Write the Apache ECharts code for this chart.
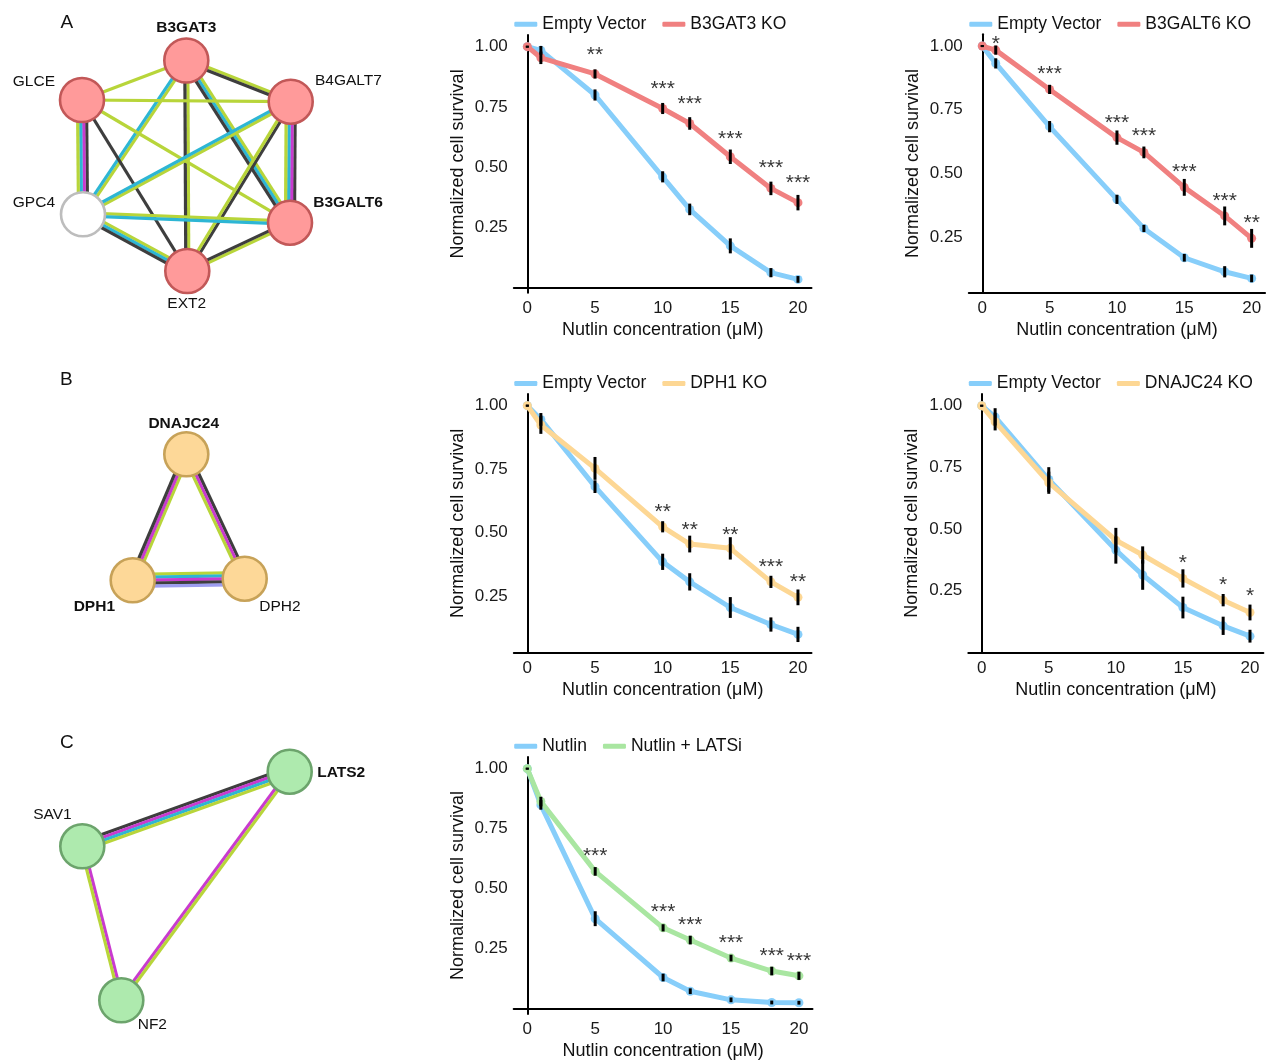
<!DOCTYPE html>
<html><head><meta charset="utf-8">
<script src="https://cdn.jsdelivr.net/npm/echarts@6/dist/echarts.min.js"></script>
<style>html,body{margin:0;padding:0;background:#fff}#c{width:1266px;height:1061px}</style>
</head><body><div id="c"></div>
<script>
// ---------- shared axis data ----------
const conc = [0, 1, 5, 10, 12, 15, 18, 20];
const xTicks = [0, 5, 10, 15, 20];
const yTicks = [0.25, 0.5, 0.75, 1.0];

// ---------- Panel A: B3GAT3 KO ----------
const evA1    = [1.00, 0.985, 0.800, 0.461, 0.326, 0.175, 0.064, 0.036];
const evA1Err = [0.004, 0.018, 0.023, 0.023, 0.024, 0.031, 0.019, 0.014];
const koA1    = [1.00, 0.954, 0.887, 0.744, 0.682, 0.544, 0.413, 0.354];
const koA1Err = [0.004, 0.026, 0.019, 0.023, 0.026, 0.030, 0.028, 0.032];
const starsA1  = ['', '', '**', '***', '***', '***', '***', '***'];
const starsYA1 = [null, null, 0.983, 0.843, 0.780, 0.635, 0.515, 0.453];

// ---------- Panel A: B3GALT6 KO ----------
const evA2    = [1.00, 0.932, 0.684, 0.399, 0.285, 0.170, 0.115, 0.089];
const evA2Err = [0.004, 0.020, 0.022, 0.018, 0.014, 0.015, 0.022, 0.015];
const koA2    = [1.00, 0.984, 0.830, 0.641, 0.583, 0.446, 0.334, 0.246];
const koA2Err = [0.004, 0.018, 0.018, 0.028, 0.023, 0.033, 0.037, 0.037];
const starsA2  = ['', '*', '***', '***', '***', '***', '***', '**'];
const starsYA2 = [null, 1.025, 0.907, 0.715, 0.663, 0.522, 0.408, 0.323];

// ---------- Panel B: DPH1 KO ----------
const evB1    = [1.00, 0.946, 0.681, 0.385, 0.306, 0.205, 0.138, 0.099];
const evB1Err = [0.004, 0.025, 0.025, 0.032, 0.034, 0.041, 0.028, 0.030];
const koB1    = [1.00, 0.924, 0.753, 0.523, 0.455, 0.438, 0.306, 0.245];
const koB1Err = [0.004, 0.035, 0.045, 0.022, 0.033, 0.044, 0.024, 0.031];
const starsB1  = ['', '', '', '**', '**', '**', '***', '**'];
const starsYB1 = [null, null, null, 0.598, 0.528, 0.509, 0.381, 0.321];

// ---------- Panel B: DNAJC24 KO ----------
const evB2    = [1.00, 0.955, 0.701, 0.415, 0.314, 0.182, 0.108, 0.066];
const evB2Err = [0.004, 0.035, 0.050, 0.055, 0.060, 0.044, 0.037, 0.026];
const koB2    = [1.00, 0.935, 0.688, 0.455, 0.395, 0.300, 0.212, 0.162];
const koB2Err = [0.004, 0.035, 0.045, 0.050, 0.035, 0.037, 0.025, 0.032];
const starsB2  = ['', '', '', '', '', '*', '*', '*'];
const starsYB2 = [null, null, null, null, null, 0.378, 0.291, 0.246];

// ---------- Panel C: LATS inhibitor ----------
const evC1    = [1.00, 0.849, 0.375, 0.130, 0.073, 0.037, 0.026, 0.025];
const evC1Err = [0.004, 0.020, 0.031, 0.016, 0.012, 0.010, 0.008, 0.008];
const koC1    = [1.00, 0.863, 0.572, 0.337, 0.286, 0.211, 0.157, 0.137];
const koC1Err = [0.004, 0.020, 0.018, 0.015, 0.018, 0.014, 0.018, 0.017];
const starsC1  = ['', '', '***', '***', '***', '***', '***', '***'];
const starsYC1 = [null, null, 0.654, 0.419, 0.366, 0.292, 0.239, 0.215];

// ---------- networks (node layout in panel units, edges with evidence channels) ----------
const netANodes = ['GLCE', 'B3GAT3', 'B4GALT7', 'B3GALT6', 'EXT2', 'GPC4'];
const netAX = [0, 104.3, 208.7, 208, 105.3, 1];
const netAY = [39.5, 0, 41.2, 162.2, 210.5, 153.8];
const netAEdges = [
  [1, 0, 'G'], [1, 2, 'GK'], [1, 5, 'GC'], [1, 4, 'GK'], [1, 3, 'GCK'],
  [0, 2, 'G'], [0, 5, 'KMCG'], [0, 4, 'K'], [0, 3, 'G'],
  [2, 5, 'GC'], [2, 3, 'KMCG'], [2, 4, 'KG'],
  [5, 3, 'GC'], [5, 4, 'GCK'], [3, 4, 'GK']
];
const netBNodes = ['DNAJC24', 'DPH1', 'DPH2'];
const netBX = [53.6, 0, 112];
const netBY = [0, 126, 124.4];
const netBEdges = [[0, 1, 'GMK'], [0, 2, 'KMG'], [1, 2, 'GCMKP']];
const netCNodes = ['LATS2', 'SAV1', 'NF2'];
const netCX = [207.4, 0, 39];
const netCY = [0, 74.6, 228.6];
const netCEdges = [[1, 0, 'KMCG'], [1, 2, 'MG'], [2, 0, 'MG']];

// ---------- styles ----------
const FONT = '"Liberation Sans", Arial, Helvetica, sans-serif';
const BLUE = '#87CEFA', RED = '#F08080', ORANGE = '#FDD794', GREEN = '#A9E6A1';
const CH = {G: '#B8D53A', K: '#3E3E3E', C: '#2DB6D4', M: '#C93BCF', P: '#9D9DF0'};

const panels = [
  {ev: evA1, evErr: evA1Err, ko: koA1, koErr: koA1Err, stars: starsA1, starsY: starsYA1,
   evName: 'Empty Vector', koName: 'B3GAT3 KO', koColor: RED, yMin: -0.019, yMax: 1.048,
   box: {left: 513.8, top: 35.1, width: 297.7, height: 257.6}, legendTop: 15.3},
  {ev: evA2, evErr: evA2Err, ko: koA2, koErr: koA2Err, stars: starsA2, starsY: starsYA2,
   evName: 'Empty Vector', koName: 'B3GALT6 KO', koColor: RED, yMin: 0.033, yMax: 1.046,
   box: {left: 968.8, top: 34.3, width: 296.3, height: 258.4}, legendTop: 15.3},
  {ev: evB1, evErr: evB1Err, ko: koB1, koErr: koB1Err, stars: starsB1, starsY: starsYB1,
   evName: 'Empty Vector', koName: 'DPH1 KO', koColor: ORANGE, yMin: 0.027, yMax: 1.046,
   box: {left: 513.8, top: 394.0, width: 297.7, height: 258.7}, legendTop: 374.6},
  {ev: evB2, evErr: evB2Err, ko: koB2, koErr: koB2Err, stars: starsB2, starsY: starsYB2,
   evName: 'Empty Vector', koName: 'DNAJC24 KO', koColor: ORANGE, yMin: -0.001, yMax: 1.048,
   box: {left: 968.3, top: 393.9, width: 295.1, height: 258.8}, legendTop: 374.6},
  {ev: evC1, evErr: evC1Err, ko: koC1, koErr: koC1Err, stars: starsC1, starsY: starsYC1,
   evName: 'Nutlin', koName: 'Nutlin + LATSi', koColor: GREEN, yMin: -0.022, yMax: 1.049,
   box: {left: 513.7, top: 756.9, width: 298.8, height: 258.1}, legendTop: 737.3}
];

const grid = [], xAxis = [], yAxis = [], series = [], legend = [];

function errSeries(gi, xs, ys, es) {
  return {
    type: 'custom', xAxisIndex: gi, yAxisIndex: gi, z: 6, silent: true,
    data: xs.map((x, i) => [x, ys[i], es[i]]),
    encode: {x: 0, y: 1},
    renderItem: function (params, api) {
      const x = api.value(0), y = api.value(1), e = api.value(2);
      const p1 = api.coord([x, y - e]), p2 = api.coord([x, y + e]);
      return {type: 'line', shape: {x1: p1[0], y1: p1[1], x2: p2[0], y2: p2[1]},
              style: {stroke: '#000', lineWidth: 3}};
    }
  };
}

panels.forEach((p, gi) => {
  grid.push(Object.assign({containLabel: false}, p.box));
  xAxis.push({
    type: 'value', gridIndex: gi, min: -1, max: 21,
    name: 'Nutlin concentration (μM)', nameLocation: 'middle', nameGap: 28,
    nameTextStyle: {fontSize: 18, color: '#111', fontFamily: FONT},
    axisLine: {show: true, lineStyle: {color: '#000', width: 2}},
    axisTick: {show: false}, splitLine: {show: false},
    axisLabel: {customValues: xTicks, fontSize: 17, color: '#1a1a1a', margin: 7, fontFamily: FONT}
  });
  yAxis.push({
    type: 'value', gridIndex: gi, min: p.yMin, max: p.yMax,
    name: 'Normalized cell survival', nameLocation: 'middle', nameGap: 47,
    nameTextStyle: {fontSize: 18, color: '#111', fontFamily: FONT},
    axisLine: {show: true, lineStyle: {color: '#000', width: 2}},
    axisTick: {show: false}, splitLine: {show: false},
    axisLabel: {customValues: yTicks, fontSize: 17, color: '#1a1a1a', margin: 6, fontFamily: FONT,
                formatter: v => v.toFixed(2)}
  });
  const lineCommon = {type: 'line', xAxisIndex: gi, yAxisIndex: gi, symbol: 'circle', symbolSize: 9,
                      showSymbol: true, silent: true};
  series.push(Object.assign({}, lineCommon, {
    name: p.evName, z: 2, data: conc.map((x, i) => [x, p.ev[i]]),
    itemStyle: {color: BLUE}, lineStyle: {color: BLUE, width: 5, cap: 'round', join: 'round'}
  }));
  series.push(Object.assign({}, lineCommon, {
    name: p.koName, z: 3, data: conc.map((x, i) => [x, p.ko[i]]),
    itemStyle: {color: p.koColor}, lineStyle: {color: p.koColor, width: 5, cap: 'round', join: 'round'}
  }));
  series.push(errSeries(gi, conc, p.ev, p.evErr));
  series.push(errSeries(gi, conc, p.ko, p.koErr));
  const starData = [];
  conc.forEach((x, i) => { if (p.stars[i]) starData.push({name: p.stars[i], value: [x, p.starsY[i]]}); });
  series.push({
    type: 'scatter', xAxisIndex: gi, yAxisIndex: gi, z: 7, silent: true, symbolSize: 0,
    data: starData,
    label: {show: true, position: 'inside', formatter: '{b}', color: '#000', fontSize: 21,
            fontFamily: FONT, offset: [0, 4.5], align: 'center', verticalAlign: 'middle'}
  });
  legend.push({
    left: p.box.left + 0.5, top: p.legendTop, padding: 0, itemGap: 16, itemWidth: 23, itemHeight: 5,
    icon: 'roundRect', data: [p.evName, p.koName], selectedMode: false,
    textStyle: {fontSize: 17.5, color: '#111', fontFamily: FONT}
  });
});

// ---------- networks ----------
const nets = [
  {names: netANodes, xs: netAX, ys: netAY, edges: netAEdges,
   box: {left: 82, top: 60.5, width: 208.7, height: 210.5},
   fill: n => n === 'GPC4' ? '#FFFFFF' : '#FF9A9A', border: n => n === 'GPC4' ? '#BDBDBD' : '#C25858',
   labels: {
     GLCE:    {align: 'right', offset: [-27, -18.3]},
     B3GAT3:  {align: 'center', offset: [0, -32.5], bold: true},
     B4GALT7: {align: 'left', offset: [24.3, -20.7]},
     B3GALT6: {align: 'left', offset: [23.3, -20.4], bold: true},
     EXT2:    {align: 'center', offset: [-0.6, 32.3]},
     GPC4:    {align: 'right', offset: [-28, -12]}
   }},
  {names: netBNodes, xs: netBX, ys: netBY, edges: netBEdges,
   box: {left: 132.7, top: 454.3, width: 112, height: 126},
   fill: () => '#FDD898', border: () => '#C7A258',
   labels: {
     DNAJC24: {align: 'center', offset: [-2.6, -30.3], bold: true},
     DPH1:    {align: 'right', offset: [-17.7, 26.4], bold: true},
     DPH2:    {align: 'left', offset: [14.6, 28]}
   }},
  {names: netCNodes, xs: netCX, ys: netCY, edges: netCEdges,
   box: {left: 82.3, top: 771.7, width: 207.4, height: 228.6},
   fill: () => '#AEEAAE', border: () => '#6CA46C',
   labels: {
     LATS2: {align: 'left', offset: [27.6, 1], bold: true},
     SAV1:  {align: 'center', offset: [-29.8, -31.3]},
     NF2:   {align: 'left', offset: [16.4, 24.7]}
   }}
];

nets.forEach((net, k) => {
  const gi = panels.length + k;
  grid.push(Object.assign({containLabel: false}, net.box));
  xAxis.push({type: 'value', gridIndex: gi, show: false, min: Math.min(...net.xs), max: Math.max(...net.xs)});
  yAxis.push({type: 'value', gridIndex: gi, show: false, inverse: true, min: Math.min(...net.ys), max: Math.max(...net.ys)});
  series.push({
    type: 'custom', xAxisIndex: gi, yAxisIndex: gi, z: 1, silent: true,
    data: net.edges.map(e => [net.xs[e[0]], net.ys[e[0]], net.xs[e[1]], net.ys[e[1]]]),
    encode: {x: [0, 2], y: [1, 3]},
    renderItem: function (params, api) {
      const e = net.edges[params.dataIndex];
      const a = api.coord([api.value(0), api.value(1)]);
      const b = api.coord([api.value(2), api.value(3)]);
      const dx = b[0] - a[0], dy = b[1] - a[1], len = Math.hypot(dx, dy) || 1;
      const nx = -dy / len, ny = dx / len;
      const chans = e[2].split('');
      const sp = 3;
      const children = chans.map((c, j) => {
        const o = (j - (chans.length - 1) / 2) * sp;
        return {type: 'line', shape: {x1: a[0] + nx * o, y1: a[1] + ny * o, x2: b[0] + nx * o, y2: b[1] + ny * o},
                style: {stroke: CH[c], lineWidth: 3.2}};
      });
      return {type: 'group', children: children};
    }
  });
  series.push({
    type: 'graph', coordinateSystem: 'cartesian2d', xAxisIndex: gi, yAxisIndex: gi, layout: 'none',
    z: 3, silent: true, symbol: 'circle', symbolSize: 44,
    data: net.names.map((n, i) => {
      const L = net.labels[n];
      return {
        name: n, value: [net.xs[i], net.ys[i]],
        itemStyle: {color: net.fill(n), borderColor: net.border(n), borderWidth: 2.6},
        label: {show: true, position: 'inside', align: L.align, verticalAlign: 'middle', offset: L.offset,
                fontSize: 15.5, fontWeight: L.bold ? 'bold' : 'normal', color: '#111', fontFamily: FONT}
      };
    }),
    links: []
  });
});

const title = [
  {text: 'A', left: 60.5, top: 13.5},
  {text: 'B', left: 60, top: 370},
  {text: 'C', left: 60, top: 733.5}
].map(t => Object.assign(t, {padding: 0, textStyle: {fontSize: 19, fontWeight: 'normal', color: '#111', fontFamily: FONT}}));

const chart = echarts.init(document.getElementById('c'), null, {renderer: 'canvas'});
chart.setOption({animation: false, backgroundColor: '#fff', title, grid, xAxis, yAxis, legend, series});
</script></body></html>
